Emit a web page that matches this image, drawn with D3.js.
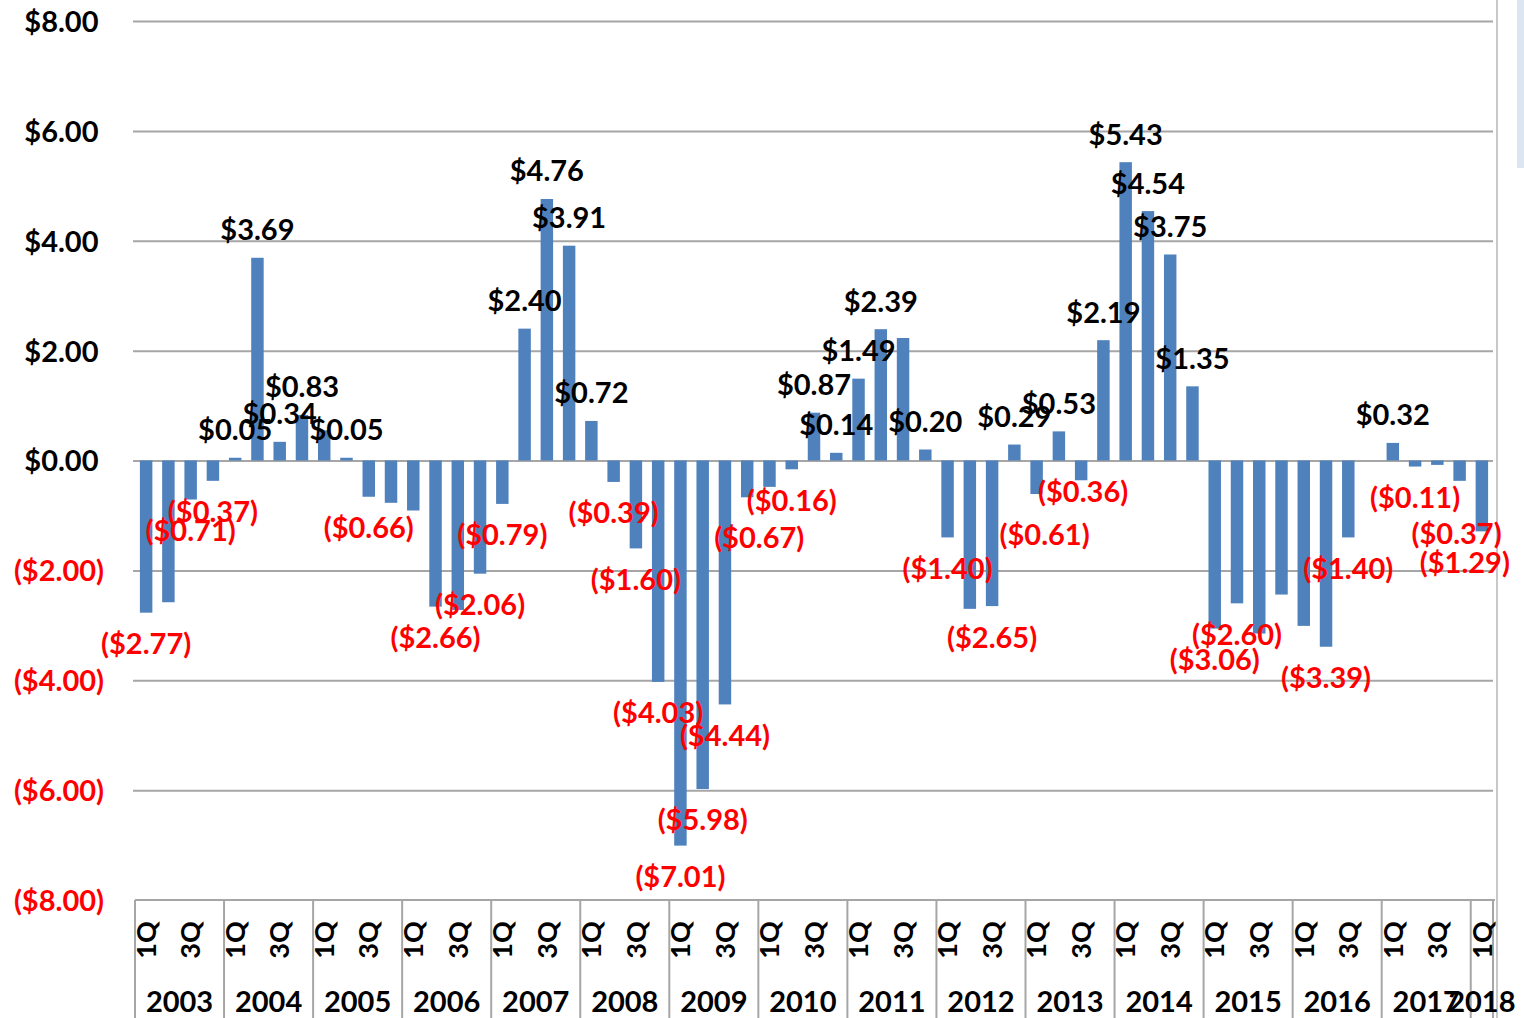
<!DOCTYPE html>
<html><head><meta charset="utf-8">
<script src="https://cdn.jsdelivr.net/npm/d3@7"></script>
<style>
html,body{margin:0;padding:0;background:#fff;overflow:hidden;}
svg{display:block;}
text{font-family:Lato,"Open Sans",sans-serif;}
</style></head><body>
<svg id="chart" width="1524" height="1018"></svg>
<script>
// ---------- data ----------
const years = ["2003","2004","2005","2006","2007","2008","2009","2010","2011","2012","2013","2014","2015","2016","2017","2018"];
const quarters = ["1Q","2Q","3Q","4Q"];
const shownQuarters = ["1Q","3Q"];
const values = [
  -2.77,-2.58,-0.71,-0.37,   // 2003
   0.05, 3.69, 0.34, 0.83,   // 2004
   0.55, 0.05,-0.66,-0.77,   // 2005
  -0.91,-2.66,-2.72,-2.06,   // 2006
  -0.79, 2.40, 4.76, 3.91,   // 2007
   0.72,-0.39,-1.60,-4.03,   // 2008
  -7.01,-5.98,-4.44,-0.67,   // 2009
  -0.48,-0.16, 0.87, 0.14,   // 2010
   1.49, 2.39, 2.23, 0.20,   // 2011
  -1.40,-2.70,-2.65, 0.29,   // 2012
  -0.61, 0.53,-0.36, 2.19,   // 2013
   5.43, 4.54, 3.75, 1.35,   // 2014
  -3.06,-2.60,-3.15,-2.44,   // 2015
  -3.01,-3.39,-1.40, null,   // 2016
   0.32,-0.11,-0.08,-0.37,   // 2017
  -1.29                      // 2018
];
const unlabelledBars = [1,8,11,12,14,28,34,37,50,51,52,55,58];
const yTicks = [8,6,4,2,0,-2,-4,-6,-8];
// label nudges (pixels) for labels that were moved in the original
const labelNudges = {27:[12,9],40:[8,10],42:[2,-20],59:[-3,22],60:[-17,0]};

const categories = years.flatMap(y => quarters.map(q => y + "|" + q)).slice(0, values.length);

// ---------- layout ----------
const L = 135, R = 1493, T = 21, B = 900;
const BLUE = "#4f81bd", RED = "#ff0000", GRID = "#a6a6a6";
const FS = 29;

const svg = d3.select("#chart");
const x = d3.scaleBand().domain(categories).range([L, R]).paddingInner(0.44).paddingOuter(0.22);
const y = d3.scaleLinear().domain([-8, 8]).range([B, T]);

const money = v => v >= 0 ? "$" + v.toFixed(2) : "($" + Math.abs(v).toFixed(2) + ")";

// right-side frame / scroll hint
svg.append("line").attr("x1",1497).attr("x2",1497).attr("y1",0).attr("y2",1018)
   .attr("stroke","#c8c8c8").attr("stroke-width",2);
svg.append("rect").attr("x",1517).attr("y",0).attr("width",7).attr("height",168).attr("fill","#dce6f2");

// gridlines
const grid = svg.append("g").attr("transform", `translate(${R},0)`)
  .call(d3.axisLeft(y).tickValues(yTicks.filter(t => t > -8)).tickSize(R - L + 2).tickFormat(""));
grid.select(".domain").remove();
grid.selectAll("line").attr("stroke", GRID).attr("stroke-width", 2);

// y axis labels
const yAx = svg.append("g").attr("transform", `translate(104,0)`)
  .call(d3.axisLeft(y).tickValues(yTicks).tickSize(0).tickPadding(0).tickFormat(money));
yAx.select(".domain").remove();
yAx.selectAll("text")
  .attr("font-size", FS).attr("font-weight", 700)
  .attr("fill", d => d < 0 ? RED : "#000")
  .attr("dy", "0.36em");
yAx.selectAll("text").filter(d => d >= 0).append("tspan").attr("fill-opacity", 0).attr("font-size", 20).text(")");

// bars
const data = categories.map((c, i) => ({c, i, v: values[i]})).filter(d => d.v !== null);
svg.append("g").selectAll("rect").data(data).join("rect")
  .attr("x", d => x(d.c))
  .attr("width", x.bandwidth())
  .attr("y", d => y(Math.max(0, d.v)))
  .attr("height", d => Math.abs(y(d.v) - y(0)))
  .attr("fill", BLUE);

// data labels
const lab = data.filter(d => !unlabelledBars.includes(d.i));
svg.append("g").selectAll("text").data(lab).join("text")
  .attr("x", d => x(d.c) + x.bandwidth() / 2 + (labelNudges[d.i] ? labelNudges[d.i][0] : 0))
  .attr("y", d => (d.v >= 0 ? y(d.v) - 28 : y(d.v) + 31) + (labelNudges[d.i] ? labelNudges[d.i][1] : 0))
  .attr("dy", "0.36em")
  .attr("text-anchor", "middle")
  .attr("font-size", FS).attr("font-weight", 700)
  .attr("fill", d => d.v < 0 ? RED : "#000")
  .text(d => money(d.v));

// category axis frame
const frame = svg.append("g").attr("stroke", GRID).attr("stroke-width", 2);
frame.append("line").attr("x1", L).attr("x2", R + 2).attr("y1", B).attr("y2", B);
const bounds = years.map((yr, k) => x.domain()[k * 4]).filter(Boolean);
const step = x.step();
const edgeX = c => x(c) - step * 0.22;
frame.selectAll("line.div").data(bounds).join("line").attr("class","div")
  .attr("x1", edgeX).attr("x2", edgeX).attr("y1", B).attr("y2", 1018);
frame.append("line").attr("x1", R).attr("x2", R).attr("y1", B).attr("y2", 1018);

// quarter labels via axis
const xAx = svg.append("g").attr("transform", `translate(0,${B})`)
  .call(d3.axisBottom(x).tickValues(categories.filter(c => shownQuarters.includes(c.split("|")[1])))
        .tickSize(0).tickFormat(c => c.split("|")[1]));
xAx.select(".domain").remove();
xAx.selectAll("text")
  .attr("transform", "translate(0,40) rotate(-90)")
  .attr("x", 0).attr("y", 0).attr("dy", "0.36em")
  .attr("text-anchor", "middle")
  .attr("font-size", 27).attr("font-weight", 700).attr("fill", "#000");

// year labels
svg.append("g").selectAll("text").data(years).join("text")
  .attr("x", (yr) => {
    const cats = categories.filter(c => c.startsWith(yr + "|"));
    const a = x(cats[0]) - step * 0.22, b = x(cats[cats.length - 1]) + x.bandwidth() + step * 0.22;
    return (a + b) / 2;
  })
  .attr("y", 1002).attr("dy", "0.36em")
  .attr("text-anchor", "middle")
  .attr("font-size", 29).attr("font-weight", 700).attr("fill", "#000")
  .text(d => d);
</script>
</body></html>
